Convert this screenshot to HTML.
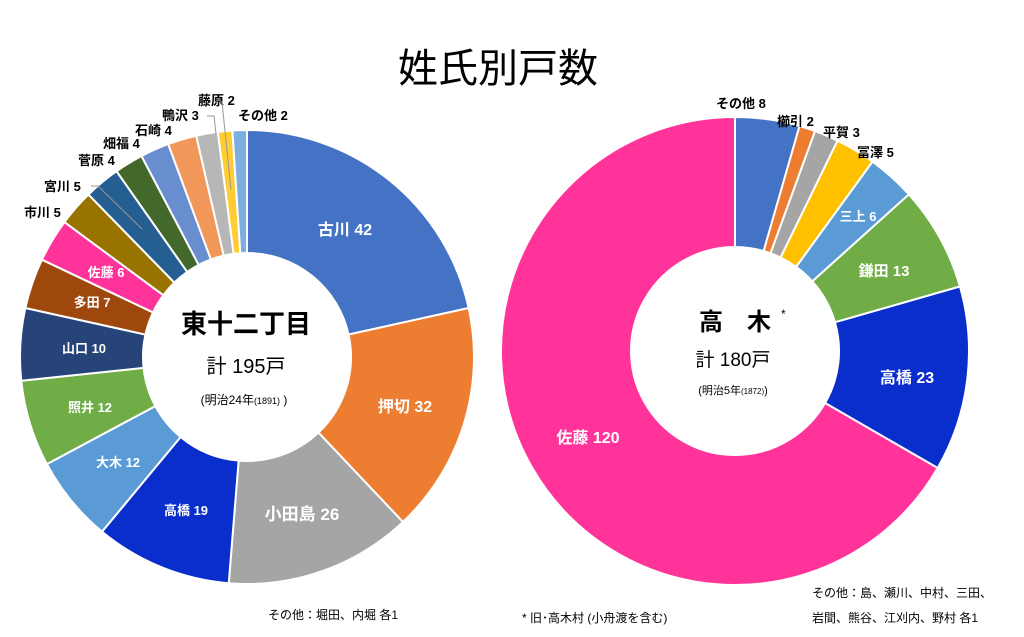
<!DOCTYPE html>
<html><head><meta charset="utf-8">
<style>
body{margin:0;background:#fff;width:1024px;height:632px;overflow:hidden;font-family:"Liberation Sans","Noto Sans CJK JP",sans-serif;}
svg text{font-family:"Liberation Sans","Noto Sans CJK JP",sans-serif;font-weight:bold;}
</style></head><body>
<svg id="s" width="1024" height="632" xmlns="http://www.w3.org/2000/svg">
<g id="L"></g><g id="R"></g>
<text x="498" y="82" font-size="40" text-anchor="middle" style="font-weight:normal">姓氏別戸数</text>
<text x="246" y="333" font-size="26" text-anchor="middle">東十二丁目</text>
<text x="246" y="373" font-size="20" text-anchor="middle" style="font-weight:normal">計 195戸</text>
<text x="244" y="404" font-size="12" text-anchor="middle" style="font-weight:normal">(明治24年<tspan font-size="9">(1891)</tspan> )</text>
<text x="735" y="330" font-size="24" text-anchor="middle">高　木</text>
<text x="781" y="318" font-size="12" style="font-weight:normal">*</text>
<text x="733" y="366" font-size="19" text-anchor="middle" style="font-weight:normal">計 180戸</text>
<text x="733" y="394" font-size="11" text-anchor="middle" style="font-weight:normal">(明治5年<tspan font-size="8">(1872)</tspan>)</text>
<g font-size="15" fill="#fff">
<text x="345" y="235" text-anchor="middle" font-size="16">古川 42</text>
<text x="405" y="412" text-anchor="middle" font-size="16">押切 32</text>
<text x="302" y="520" text-anchor="middle" font-size="17">小田島 26</text>
<text x="186" y="515" text-anchor="middle" font-size="13">高橋 19</text>
<text x="118" y="467" text-anchor="middle" font-size="13">大木 12</text>
<text x="90" y="412" text-anchor="middle" font-size="13">照井 12</text>
<text x="84" y="353" text-anchor="middle" font-size="13">山口 10</text>
<text x="92" y="307" text-anchor="middle" font-size="13">多田 7</text>
<text x="106" y="277" text-anchor="middle" font-size="13">佐藤 6</text>
</g>
<g font-size="13" fill="#000">
<text x="24" y="217">市川 5</text>
<text x="44" y="191">宮川 5</text>
<text x="78" y="165">菅原 4</text>
<text x="103" y="148">畑福 4</text>
<text x="135" y="135">石崎 4</text>
<text x="162" y="120">鴨沢 3</text>
<text x="198" y="105">藤原 2</text>
<text x="238" y="120">その他 2</text>
</g>
<g stroke="#999" fill="none" stroke-width="1">
<polyline points="91,186 98,186 142,229"/>
<polyline points="207,116 214,116 216,134"/>
<polyline points="219,102 222,102 231,190"/>
</g>
<g font-size="13" fill="#000">
<text x="716" y="108">その他 8</text>
<text x="777" y="126">櫛引 2</text>
<text x="823" y="137">平賀 3</text>
<text x="857" y="157">冨澤 5</text>
</g>
<g fill="#fff">
<text x="858" y="221" text-anchor="middle" font-size="13">三上 6</text>
<text x="884" y="276" text-anchor="middle" font-size="15">鎌田 13</text>
<text x="907" y="383" text-anchor="middle" font-size="16">高橋 23</text>
<text x="588" y="443" text-anchor="middle" font-size="16">佐藤 120</text>
</g>
<g font-size="12">
<text x="268" y="619" style="font-weight:normal">その他：堀田、内堀 各1</text>
<text x="522" y="622" style="font-weight:normal">* 旧･高木村 (小舟渡を含む)</text>
<text x="812" y="597" style="font-weight:normal">その他：島、瀬川、中村、三田、</text>
<text x="812" y="622" style="font-weight:normal">岩間、熊谷、江刈内、野村 各1</text>
</g>
</svg>
<script>
function donut(gid,cx,cy,R,r,data){
  var g=document.getElementById(gid),tot=0;data.forEach(d=>tot+=d[0]);
  var a=0,h='';
  data.forEach(d=>{
    var a0=a/tot*2*Math.PI,a1=(a+d[0])/tot*2*Math.PI;a+=d[0];
    var p=(ang,rad)=>[(cx+rad*Math.sin(ang)).toFixed(2),(cy-rad*Math.cos(ang)).toFixed(2)];
    var L=(a1-a0)>Math.PI?1:0;
    var o0=p(a0,R),o1=p(a1,R),i1=p(a1,r),i0=p(a0,r);
    h+='<path d="M'+o0+' A'+R+' '+R+' 0 '+L+' 1 '+o1+' L'+i1+' A'+r+' '+r+' 0 '+L+' 0 '+i0+' Z" fill="'+d[1]+'" stroke="#fff" stroke-width="2"/>';
  });
  g.innerHTML=h;
}
donut('L',247,357,227,104,[[42,'#4472C4'],[32,'#ED7D31'],[26,'#A5A5A5'],[19,'#0A2ECC'],[12,'#5B9BD5'],[12,'#70AD47'],[10,'#264478'],[7,'#9E480E'],[6,'#FF3399'],[5,'#997300'],[5,'#255E91'],[4,'#43682B'],[4,'#698ED0'],[4,'#F1975A'],[3,'#B7B7B7'],[2,'#FFCD33'],[2,'#7CAFDD']]);
donut('R',735,351,234,104,[[8,'#4472C4'],[2,'#ED7D31'],[3,'#A5A5A5'],[5,'#FFC000'],[6,'#5B9BD5'],[13,'#70AD47'],[23,'#0A2ECC'],[120,'#FF3399']]);
</script>
</body></html>
